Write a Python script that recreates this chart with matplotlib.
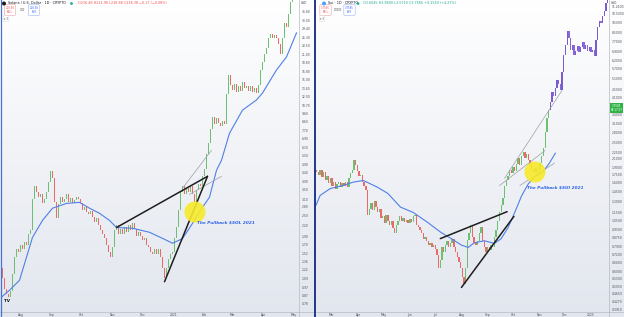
import numpy as np
import pandas as pd
import matplotlib
matplotlib.use("Agg")
import matplotlib.pyplot as plt
import matplotlib.dates as mdates
from matplotlib.lines import Line2D
from matplotlib.patches import Ellipse
from matplotlib.colors import LinearSegmentedColormap

W, H = 624, 317

# ---- Solana / USD, 2-day closes starting 2020-07-12 ----
sol_start = "2020-07-12"
sol_open0 = 1.30
sol_close = [1.25, 1.10, 0.95, 0.88, 0.85, 0.92, 1.15, 1.45, 1.60, 1.55,
             1.70, 1.60, 1.75, 1.70, 1.95, 2.05, 3.10, 3.70, 3.40, 3.20,
             3.30, 2.95, 3.10, 3.40, 3.90, 4.50, 4.10, 3.00, 2.40, 2.90,
             3.20, 3.00, 3.10, 3.30, 3.00, 3.15, 2.95, 3.05, 3.20, 3.10,
             2.95, 2.70, 2.80, 2.60, 2.55, 2.65, 2.45, 2.30, 2.40, 2.20,
             2.05, 1.95, 1.85, 1.70, 1.55, 1.45, 1.65, 2.05, 2.20, 1.95,
             2.10, 1.95, 2.15, 2.00, 2.20, 2.05, 2.25, 2.10, 1.90, 2.00,
             1.90, 1.80, 1.85, 1.70, 1.65, 1.55, 1.50, 1.60, 1.50, 1.60,
             1.45, 1.25, 1.10, 1.25, 1.40, 1.50, 1.55, 1.85, 2.15, 2.70,
             3.40, 3.70, 3.30, 3.60, 3.40, 3.70, 3.30, 3.00, 3.50, 3.80,
             3.70, 4.20, 4.60, 5.60, 6.50, 7.80, 9.20, 8.40, 9.00, 8.50,
             8.20, 8.70, 8.40, 12.50, 16.00, 14.00, 13.20, 14.20, 12.80, 13.80,
             13.00, 14.50, 13.50, 13.80, 13.00, 13.80, 12.80, 13.50, 12.60, 14.00,
             17.00, 19.00, 21.00, 23.00, 26.00, 27.50, 26.00, 27.00, 26.00, 24.00,
             21.00, 26.00, 32.00, 30.00, 36.00, 42.00, 45.00]

sol_ma_dates = ["2020-07-12", "2020-07-21", "2020-07-31", "2020-08-13", "2020-08-23",
                "2020-09-02", "2020-09-16", "2020-09-29", "2020-10-09", "2020-10-19",
                "2020-10-29", "2020-11-05", "2020-11-21", "2020-12-08", "2020-12-25",
                "2020-12-31", "2021-01-10", "2021-01-20", "2021-01-30", "2021-02-06",
                "2021-02-13", "2021-02-18", "2021-02-26", "2021-03-11", "2021-03-25",
                "2021-03-31", "2021-04-14", "2021-04-24", "2021-05-04"]
sol_ma = [0.84, 0.93, 1.06, 1.87, 2.34, 2.75, 2.93, 2.97, 2.75, 2.57,
          2.34, 2.13, 2.11, 2.00, 1.80, 1.73, 1.84, 2.25, 2.78, 3.18,
          4.54, 5.18, 7.41, 10.05, 11.5, 12.6, 17.1, 20.3, 27.9]

sol_ticks = ["36.80", "33.00", "29.40", "26.30", "23.50", "21.00", "18.80", "16.80",
             "15.00", "13.40", "12.00", "10.70", "9.60", "8.60", "7.70", "6.90",
             "6.10", "5.50", "4.90", "4.40", "3.90", "3.50", "3.10", "2.80", "2.50",
             "2.20", "1.90", "1.70", "1.52", "1.36", "1.22", "1.09", "0.97", "0.87", "0.78"]
sol_months = ["2020-08-01", "2020-09-01", "2020-10-01", "2020-11-01", "2020-12-01",
              "2021-01-01", "2021-02-01", "2021-03-01", "2021-04-01", "2021-05-01"]
sol_month_labels = ["Aug", "Sep", "Oct", "Nov", "Dec", "2021", "Feb", "Mar", "Apr", "May"]

# trend lines (date, price) pairs
sol_black = [(("2020-11-05", 2.13), ("2021-02-04", 4.19)),
             (("2020-12-23", 1.04), ("2021-02-04", 4.19))]
sol_grey = [(("2021-01-10", 3.58), ("2021-02-08", 5.91)),
            (("2021-01-17", 3.30), ("2021-02-18", 4.19))]

# ---- Sui / USD, 2-day closes starting 2024-02-12 ----
sui_start = "2024-02-12"
sui_open0 = 1.85
sui_close = [1.80, 1.75, 1.85, 1.70, 1.80, 1.65, 1.72, 1.60, 1.68,
             1.55, 1.62, 1.50, 1.58, 1.62, 1.52, 1.60, 1.55, 1.62, 1.52, 1.68, 1.78, 1.84, 2.05, 1.95, 1.82,
             1.72, 1.75, 1.62, 1.55, 1.48, 1.12, 1.20, 1.28, 1.18, 1.30, 1.22, 1.15, 1.20, 1.08, 1.10,
             1.02, 1.12, 1.05, 1.00, 1.05, 0.97, 0.92, 1.00, 1.05, 1.10, 1.05, 1.08, 1.03, 1.06, 1.02,
             1.07, 1.03, 1.10, 1.12, 1.00, 0.98, 0.95, 0.92, 0.86, 0.88, 0.84, 0.80, 0.82, 0.78, 0.80,
             0.77, 0.72, 0.62, 0.68, 0.78, 0.74, 0.80, 0.84, 0.78, 0.82, 0.86, 0.78, 0.74, 0.70, 0.66, 0.62,
             0.56, 0.52, 0.62, 0.85, 0.92, 1.00, 0.88, 0.82, 0.80, 0.84, 0.92, 0.98, 0.84, 0.78, 0.74,
             0.78, 0.76, 0.80, 0.78, 0.88, 0.95, 1.05, 1.15, 1.25, 1.35, 1.55, 1.65, 1.72, 1.85, 1.78,
             1.90, 1.82, 1.98, 2.10, 1.95, 2.15, 2.25, 2.10, 2.20, 2.05, 1.95, 1.85, 1.80, 1.88, 1.78, 1.85,
             2.00, 2.15, 2.35, 2.80, 3.30, 3.60]

# projected bars pattern (purple), 2-day closes from 2024-11-14
proj_start = "2024-11-14"
proj_close = [3.90, 4.40, 4.20, 4.60, 5.00, 4.80, 4.50, 5.50, 6.60,
              7.40, 8.60, 8.00, 7.00, 7.40, 6.60, 6.90, 7.30, 6.80, 7.20,
              7.60, 7.10, 7.40, 6.90, 7.20, 6.80, 7.00, 6.50, 7.80, 9.00,
              9.60, 9.40, 10.20, 10.80, 11.80, 12.30]

sui_ma_dates = ["2024-02-11", "2024-02-16", "2024-02-28", "2024-03-14", "2024-03-26",
                "2024-04-07", "2024-04-24", "2024-05-06", "2024-05-21", "2024-06-05",
                "2024-06-22", "2024-07-08", "2024-07-20", "2024-08-01", "2024-08-09",
                "2024-08-16", "2024-08-28", "2024-09-09", "2024-09-17", "2024-09-25",
                "2024-10-03", "2024-10-11", "2024-10-19", "2024-10-27", "2024-11-05",
                "2024-11-13", "2024-11-20"]
sui_ma = [1.245, 1.39, 1.50, 1.55, 1.61, 1.64, 1.52, 1.42, 1.22, 1.15,
          1.03, 0.92, 0.86, 0.80, 0.78, 0.82, 0.84, 0.815, 0.86, 0.97,
          1.15, 1.38, 1.58, 1.72, 1.80, 1.99, 2.22]

sui_ticks = ["11.2600", "10.5000", "9.5000", "8.5000", "7.7000", "6.9000", "6.2000",
             "5.7000", "5.1000", "4.5000", "4.1000", "3.4000", "3.1000", "2.8000",
             "2.5000", "2.2500", "2.1000", "1.9000", "1.7500", "1.6000", "1.4500",
             "1.3000", "1.1500", "1.0500", "0.9500", "0.8750", "0.7900", "0.7200",
             "0.6600", "0.6000", "0.5500", "0.5050", "0.4650", "0.4270", "0.3910"]
sui_months = ["2024-03-01", "2024-04-01", "2024-05-01", "2024-06-01", "2024-07-01",
              "2024-08-01", "2024-09-01", "2024-10-01", "2024-11-01", "2024-12-01",
              "2025-01-01"]
sui_month_labels = ["Mar", "Apr", "May", "Jun", "Jul", "Aug", "Sep", "Oct", "Nov", "Dec", "2025"]

sui_black = [(("2024-07-07", 0.86), ("2024-09-24", 1.16)),
             (("2024-08-01", 0.50), ("2024-10-02", 1.10))]
sui_grey = [(("2024-09-15", 1.55), ("2024-11-08", 2.29)),
            (("2024-10-09", 1.55), ("2024-11-19", 1.99)),
            (("2024-09-21", 1.68), ("2024-11-28", 4.47))]

UP, DOWN = "#6cc070", "#ec6a66"
MA_COL = "#4f7fe8"
PURPLE = "#7b5bd0"


def fx(x):
    return x / W


def fy(y):
    return 1 - y / H


def dn(s):
    return mdates.date2num(pd.Timestamp(s).to_pydatetime())


def dot(x, y, r, color, z=6, alpha=1.0):
    fig.add_artist(Ellipse((fx(x), fy(y)), 2 * r / W, 2 * r / H, transform=fig.transFigure,
                           color=color, lw=0, zorder=z, alpha=alpha))


def candles(ax, start, open0, closes, up, down, width=1.6):
    d = pd.date_range(start, periods=len(closes), freq="2D")
    x = mdates.date2num(d.to_pydatetime())
    c = np.array(closes)
    o = np.concatenate([[open0], c[:-1]])
    lo = np.minimum(o, c)
    hi = np.maximum(o, c)
    cols = [up if cc >= oo else down for oo, cc in zip(o, c)]
    ax.bar(x, hi - lo, bottom=lo, width=width, color=cols, linewidth=0, zorder=3)


def setup(ax, xlim, ylim, ticks, months, month_labels):
    ax.set_facecolor("none")
    ax.set_yscale("log")
    ax.set_xlim(dn(xlim[0]), dn(xlim[1]))
    ax.set_ylim(*ylim)
    for s in ax.spines.values():
        s.set_visible(False)
    ax.yaxis.tick_right()
    ax.set_yticks([float(t) for t in ticks], ticks)
    ax.yaxis.set_minor_locator(matplotlib.ticker.NullLocator())
    ax.tick_params(axis="y", length=0, pad=2.2, labelsize=2.2, labelcolor="#4a4e58")
    ax.set_xticks([dn(m) for m in months], month_labels)
    ax.xaxis.set_minor_locator(matplotlib.ticker.NullLocator())
    ax.tick_params(axis="x", length=0, pad=1.2, labelsize=2.2, labelcolor="#4a4e58")


def seg_lines(ax, segs, color, lw):
    for (d0, p0), (d1, p1) in segs:
        ax.plot([dn(d0), dn(d1)], [p0, p1], color=color, lw=lw, zorder=5,
                solid_capstyle="round")


fig = plt.figure(figsize=(W / 100, H / 100), dpi=100)

bg = fig.add_axes([0, 0, 1, 1], zorder=-10)
grad = np.linspace(0, 1, 256).reshape(-1, 1)
bg.imshow(grad, aspect="auto", extent=[0, 1, 0, 1],
          cmap=LinearSegmentedColormap.from_list("bg", ["#ffffff", "#e2e6ee"]))
bg.axis("off")

ax1 = fig.add_axes([fx(1), fy(311.7), 298 / W, 311.7 / H])
ax2 = fig.add_axes([fx(316), fy(311.7), 293 / W, 311.7 / H])

setup(ax1, ("2020-07-12 12:00", "2021-05-06 12:00"), (0.70, 43.1),
      sol_ticks, sol_months, sol_month_labels)
setup(ax2, ("2024-02-11 02:00", "2025-01-22 10:00"), (0.382, 12.17),
      sui_ticks, sui_months, sui_month_labels)

# left chart
candles(ax1, sol_start, sol_open0, sol_close, UP, DOWN)
ax1.plot([dn(d) for d in sol_ma_dates], sol_ma, color=MA_COL, lw=0.8, zorder=4)
seg_lines(ax1, sol_grey, "#9a9ea6", 0.5)
seg_lines(ax1, sol_black, "#1e1e1e", 1.1)

# right chart
candles(ax2, sui_start, sui_open0, sui_close, UP, DOWN)
candles(ax2, proj_start, sui_close[-1], proj_close, PURPLE, "#8a6ad8")
ax2.plot([dn(d) for d in sui_ma_dates], sui_ma, color=MA_COL, lw=0.8, zorder=4)
seg_lines(ax2, sui_grey, "#9a9ea6", 0.5)
seg_lines(ax2, sui_black, "#1e1e1e", 1.1)

# yellow highlight circles and notes (figure pixel coords)
dot(195, 212, 10.5, "#f7ea2a", alpha=0.9)
dot(535, 172, 10.5, "#f7ea2a", alpha=0.9)
note = dict(color="#2e63e8", fontsize=3.1, fontweight="bold", style="italic",
            va="center", ha="left", zorder=7)
fig.text(fx(197), fy(222), r"The Pullback \$SOL 2021", **note)
fig.text(fx(527), fy(187), r"The Pullback \$SUI 2021", **note)

# frame lines
for x in (299, 609):
    fig.add_artist(Line2D([fx(x)] * 2, [0, 1], color="#b6bac2", lw=0.5))
fig.add_artist(Line2D([0, fx(314)], [fy(311.7)] * 2, color="#b6bac2", lw=0.5))
fig.add_artist(Line2D([fx(316), 1], [fy(311.7)] * 2, color="#b6bac2", lw=0.5))
fig.add_artist(Line2D([fx(315)] * 2, [0, 1], color="#22378c", lw=1.4))
fig.add_artist(Line2D([fx(0.5)] * 2, [0, 1], color="#4a6fd6", lw=0.9))

# headers
hdr = dict(fontsize=2.4, va="center", ha="left")
dot(4, 3.5, 2, "#1b1b1b")
fig.text(fx(8), fy(3.5), "Solana / U.S. Dollar · 1D · CRYPTO", color="#131722", **hdr)
dot(71.5, 3.5, 1.4, "#22ab94")
fig.text(fx(78), fy(3.5), "O216.48 H221.90 L216.88 C218.38 −0.17 (−0.08%)",
         color="#ef5350", **hdr)

dot(324, 3.5, 2, "#4da2ff")
fig.text(fx(328), fy(3.5), "Sui · 1D · CRYPTO", color="#131722", **hdr)
dot(358, 3.5, 1.4, "#22ab94")
fig.text(fx(363), fy(3.5), "O3.6045 H3.8600 L3.5710 C3.7585 +0.1540 (+4.27%)",
         color="#22ab94", **hdr)

box = dict(fontsize=1.8, ha="center", va="center", linespacing=1.1)
for x0, price, zero in [(10, "218.38", "0.00"), (325.5, "3.7585", "0.0000")]:
    fig.text(fx(x0), fy(10), price + "\nSELL", color="#ef5350",
             bbox=dict(boxstyle="round,pad=0.5", fc="white", ec="#f0a0a0", lw=0.4), **box)
    fig.text(fx(x0 + 12), fy(10), zero, color="#555", **box)
    fig.text(fx(x0 + 24), fy(10), price + "\nBUY", color="#2962ff",
             bbox=dict(boxstyle="round,pad=0.5", fc="white", ec="#9db5f0", lw=0.4), **box)
for x0 in (4, 320):
    fig.text(fx(x0), fy(18.5), "▾ 3", color="#555", fontsize=2.0, va="center",
             bbox=dict(boxstyle="round,pad=0.3", fc="white", ec="#d0d3d9", lw=0.3))

# axis extras
fig.text(fx(301), fy(3), "USD", color="#4a4e58", fontsize=2.2, va="center")
fig.text(fx(611), fy(3), "USD", color="#4a4e58", fontsize=2.2, va="center")
fig.text(fx(616.5), fy(108), "3.7585\n08:17:07", color="white", fontsize=2.0,
         ha="center", va="center", linespacing=1.0,
         bbox=dict(boxstyle="square,pad=0.35", fc="#2fb344", ec="none"))
fig.text(fx(4), fy(301), "TV", color="#111", fontsize=3.0, fontweight="bold",
         va="center")

fig.savefig("out.png", dpi=100)
